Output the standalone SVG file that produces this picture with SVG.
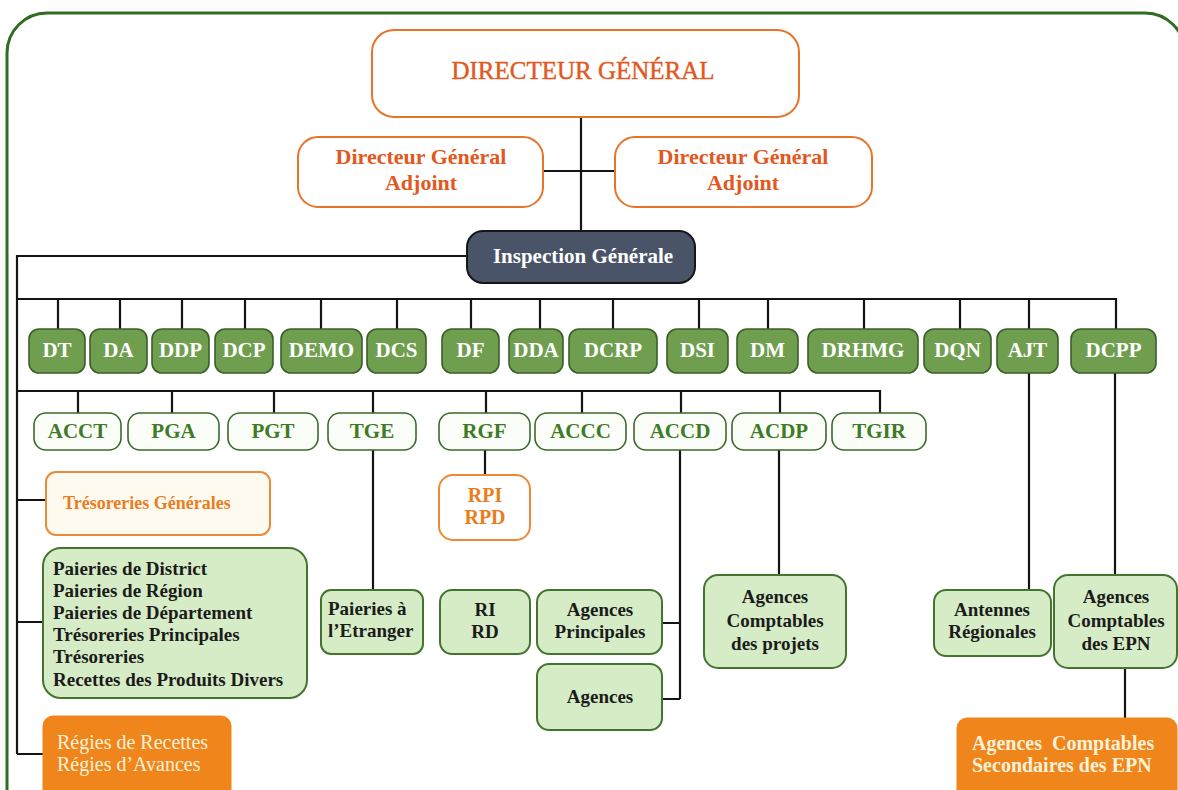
<svg xmlns="http://www.w3.org/2000/svg" width="1178" height="790" viewBox="0 0 1178 790">
<style>
text{font-family:"Liberation Serif","Times New Roman",serif;text-anchor:middle}
.frame{fill:none;stroke:#2f6d23;stroke-width:3}
.ln{fill:none;stroke:#141414;stroke-width:2.2}
.dg{fill:#fff;stroke:#e8742a;stroke-width:2}
.dgt{fill:#e2581e;font-size:25px;stroke:#e2581e;stroke-width:0.4}
.dgat{fill:#e2581e;font-size:22px;font-weight:bold}
.insp{fill:#4a5468;stroke:#161616;stroke-width:2}
.inspt{fill:#fff;font-size:21px;font-weight:bold}
.d1{fill:#6f9e4f;stroke:#3b5e2a;stroke-width:1.6}
.d1t{fill:#fff;font-size:21px;font-weight:bold}
.d2{fill:#fbfdf8;stroke:#3b6a2a;stroke-width:1.6}
.d2t{fill:#3e7b26;font-size:21px;font-weight:bold}
.lg{fill:#d6ecc6;stroke:#44752f;stroke-width:2}
.lgt{fill:#1b1b1b;font-size:19px;font-weight:bold}
.ob{fill:#fffaf0;stroke:#eb8a3a;stroke-width:2}
.obw{fill:#fff;stroke:#ee8a35;stroke-width:2}
.obt{fill:#ea7d1e;font-weight:bold}
.of{fill:#ef851b;stroke:#ef851b;stroke-width:1}
.oft{fill:#fdf1d8;font-size:20px}
.l{text-anchor:start}
</style>
<path class="frame" d="M7 795 V53 A40 40 0 0 1 47 13 H1145 A40 40 0 0 1 1185 53 V795"/>
<g id="connectors">
<path class="ln" d="M581 117 V231 M543 171 H615"/>
<path class="ln" d="M467 256 H17 V754 M17 299 H1116 V329 M17 391 H880 V413"/>
<path class="ln" d="M58 299 V329 M120 299 V329 M182 299 V329 M245 299 V329 M321 299 V329 M397 299 V329 M471 299 V329 M540 299 V329 M613 299 V329 M699 299 V329 M768 299 V329 M864 299 V329 M960 299 V329 M1029 299 V329"/>
<path class="ln" d="M78 391 V413 M172 391 V413 M274 391 V413 M373 391 V413 M486 391 V413 M582 391 V413 M681 391 V413 M780 391 V413"/>
<path class="ln" d="M17 500 H46 M17 622 H43 M17 754 H43"/>
<path class="ln" d="M485 450 V475 M373 450 V590 M680 450 V699 M662 623 H680 M662 699 H680 M779 450 V575 M1029 373 V590 M1115 373 V575 M1125 668 V718"/>
</g>
<g id="dg"><rect class="dg" x="372" y="30" width="427" height="87" rx="22"/><text class="dgt" x="583" y="79">DIRECTEUR GÉNÉRAL</text></g>
<g id="dga1"><rect class="dg" x="298" y="137" width="245" height="70" rx="20"/><text class="dgat" x="421" y="164">Directeur Général</text><text class="dgat" x="421" y="190">Adjoint</text></g>
<g id="dga2"><rect class="dg" x="615" y="137" width="257" height="70" rx="20"/><text class="dgat" x="743" y="164">Directeur Général</text><text class="dgat" x="743" y="190">Adjoint</text></g>
<g id="ig"><rect class="insp" x="467" y="231" width="228" height="52" rx="16"/><text class="inspt" x="583" y="263">Inspection Générale</text></g>
<g id="dt"><rect class="d1" x="29" y="329" width="56" height="44" rx="10"/><text class="d1t" x="57" y="357">DT</text></g>
<g id="da"><rect class="d1" x="90" y="329" width="57" height="44" rx="10"/><text class="d1t" x="118.5" y="357">DA</text></g>
<g id="ddp"><rect class="d1" x="152" y="329" width="57" height="44" rx="10"/><text class="d1t" x="180.5" y="357">DDP</text></g>
<g id="dcp"><rect class="d1" x="215" y="329" width="58" height="44" rx="10"/><text class="d1t" x="244" y="357">DCP</text></g>
<g id="demo"><rect class="d1" x="281" y="329" width="81" height="44" rx="10"/><text class="d1t" x="321.5" y="357">DEMO</text></g>
<g id="dcs"><rect class="d1" x="367" y="329" width="59" height="44" rx="10"/><text class="d1t" x="396.5" y="357">DCS</text></g>
<g id="df"><rect class="d1" x="442" y="329" width="57" height="44" rx="10"/><text class="d1t" x="470.5" y="357">DF</text></g>
<g id="dda"><rect class="d1" x="509" y="329" width="54" height="44" rx="10"/><text class="d1t" x="536" y="357">DDA</text></g>
<g id="dcrp"><rect class="d1" x="569" y="329" width="88" height="44" rx="10"/><text class="d1t" x="613" y="357">DCRP</text></g>
<g id="dsi"><rect class="d1" x="667" y="329" width="61" height="44" rx="10"/><text class="d1t" x="697.5" y="357">DSI</text></g>
<g id="dm"><rect class="d1" x="737" y="329" width="61" height="44" rx="10"/><text class="d1t" x="767.5" y="357">DM</text></g>
<g id="drhmg"><rect class="d1" x="808" y="329" width="110" height="44" rx="10"/><text class="d1t" x="863" y="357">DRHMG</text></g>
<g id="dqn"><rect class="d1" x="924" y="329" width="67" height="44" rx="10"/><text class="d1t" x="957.5" y="357">DQN</text></g>
<g id="ajt"><rect class="d1" x="997" y="329" width="61" height="44" rx="10"/><text class="d1t" x="1027.5" y="357">AJT</text></g>
<g id="dcpp"><rect class="d1" x="1071" y="329" width="85" height="44" rx="10"/><text class="d1t" x="1113.5" y="357">DCPP</text></g>
<g id="acct"><rect class="d2" x="34" y="413" width="87" height="37" rx="12"/><text class="d2t" x="77.5" y="438">ACCT</text></g>
<g id="pga"><rect class="d2" x="128" y="413" width="91" height="37" rx="12"/><text class="d2t" x="173.5" y="438">PGA</text></g>
<g id="pgt"><rect class="d2" x="228" y="413" width="90" height="37" rx="12"/><text class="d2t" x="273" y="438">PGT</text></g>
<g id="tge"><rect class="d2" x="328" y="413" width="88" height="37" rx="12"/><text class="d2t" x="372" y="438">TGE</text></g>
<g id="rgf"><rect class="d2" x="439" y="413" width="91" height="37" rx="12"/><text class="d2t" x="484.5" y="438">RGF</text></g>
<g id="accc"><rect class="d2" x="535" y="413" width="91" height="37" rx="12"/><text class="d2t" x="580.5" y="438">ACCC</text></g>
<g id="accd"><rect class="d2" x="634" y="413" width="92" height="37" rx="12"/><text class="d2t" x="680" y="438">ACCD</text></g>
<g id="acdp"><rect class="d2" x="732" y="413" width="94" height="37" rx="12"/><text class="d2t" x="779" y="438">ACDP</text></g>
<g id="tgir"><rect class="d2" x="832" y="413" width="94" height="37" rx="12"/><text class="d2t" x="879" y="438">TGIR</text></g>
<g id="tresgen"><rect class="ob" x="46" y="472" width="224" height="63" rx="10"/><text class="obt l" x="63" y="509" font-size="18">Trésoreries Générales</text></g>
<g id="rpi"><rect class="obw" x="439" y="475" width="91" height="65" rx="14"/><text class="obt" x="485" y="502" font-size="20">RPI</text><text class="obt" x="485" y="524" font-size="20">RPD</text></g>
<g id="paieries"><rect class="lg" x="43" y="548" width="264" height="150" rx="18"/>
<text class="lgt l" x="53" y="575">Paieries de District</text>
<text class="lgt l" x="53" y="597">Paieries de Région</text>
<text class="lgt l" x="53" y="619">Paieries de Département</text>
<text class="lgt l" x="53" y="641">Trésoreries Principales</text>
<text class="lgt l" x="53" y="663">Trésoreries</text>
<text class="lgt l" x="53" y="686">Recettes des Produits Divers</text></g>
<g id="etranger"><rect class="lg" x="321" y="590" width="102" height="64" rx="10"/><text class="lgt l" x="328" y="615">Paieries à</text><text class="lgt l" x="328" y="637">l’Etranger</text></g>
<g id="rird"><rect class="lg" x="440" y="590" width="90" height="64" rx="12"/><text class="lgt" x="485" y="616">RI</text><text class="lgt" x="485" y="638">RD</text></g>
<g id="agprin"><rect class="lg" x="537" y="590" width="125" height="64" rx="12"/><text class="lgt" x="600" y="616">Agences</text><text class="lgt" x="600" y="638">Principales</text></g>
<g id="agences"><rect class="lg" x="537" y="664" width="125" height="66" rx="12"/><text class="lgt" x="600" y="703">Agences</text></g>
<g id="agprojets"><rect class="lg" x="704" y="575" width="142" height="93" rx="14"/><text class="lgt" x="775" y="603">Agences</text><text class="lgt" x="775" y="627">Comptables</text><text class="lgt" x="775" y="650">des projets</text></g>
<g id="antennes"><rect class="lg" x="934" y="590" width="117" height="66" rx="12"/><text class="lgt" x="992" y="616">Antennes</text><text class="lgt" x="992" y="638">Régionales</text></g>
<g id="agepn"><rect class="lg" x="1054" y="575" width="123" height="93" rx="14"/><text class="lgt" x="1116" y="603">Agences</text><text class="lgt" x="1116" y="627">Comptables</text><text class="lgt" x="1116" y="650">des EPN</text></g>
<g id="regies"><rect class="of" x="43" y="716" width="188" height="90" rx="10"/><text class="oft l" x="57" y="749">Régies de Recettes</text><text class="oft l" x="57" y="771">Régies d’Avances</text></g>
<g id="agsec"><rect class="of" x="957" y="718" width="220" height="90" rx="10"/><text class="oft l" x="972" y="750" font-size="21" font-weight="bold" xml:space="preserve">Agences  Comptables</text><text class="oft l" x="972" y="772" font-size="21" font-weight="bold">Secondaires des EPN</text></g>
</svg>
